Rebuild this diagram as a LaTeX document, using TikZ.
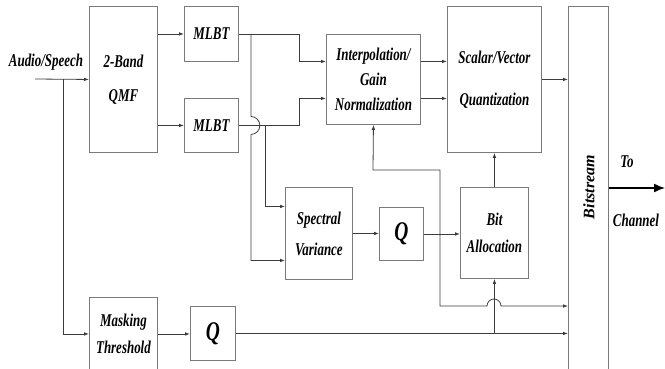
\documentclass[tikz,border=0pt]{standalone}
\usepackage{fontspec}
\setmainfont{Liberation Serif}
\newfontfamily\condfont[FakeStretch=0.72]{Liberation Serif}
\usetikzlibrary{arrows.meta,calc}
\definecolor{boxgray}{HTML}{7A7A7A}
\definecolor{linegray}{HTML}{3C3C3C}
\newcommand\mytf[2]{\condfont\bfseries\itshape\fontsize{#1}{#2}\selectfont}
\begin{document}
\begin{tikzpicture}[x=1pt,y=-1pt,
  box/.style={draw=boxgray, line width=0.9pt, inner sep=0pt, anchor=north west, align=center, text=black},
  lbl/.style={inner sep=0pt, text=black},
  conn/.style={draw=linegray, line width=0.8pt},
  arr/.style={conn, -{Latex[length=5pt,width=3.6pt]}},
  darr/.style={conn, {Latex[length=5pt,width=3.6pt]}-{Latex[length=5pt,width=3.6pt]}},
  bigarr/.style={draw=black, line width=1.4pt, -{Latex[length=11pt,width=9pt]}}]
\useasboundingbox (0,0) rectangle (665,368);
\fill[white] (0,0) rectangle (665,368);

% boxes
\node[box, minimum width=68pt, minimum height=146pt, font=\mytf{18}{34}] (qmf) at (89,6) {2-Band\\QMF};
\node[box, minimum width=54pt, minimum height=55pt, font=\mytf{18}{22}] (mlbta) at (184,6) {MLBT};
\node[box, minimum width=54pt, minimum height=54pt, font=\mytf{18}{22}] (mlbtb) at (184,98) {MLBT};
\node[box, minimum width=94pt, minimum height=90pt, font=\mytf{18}{25}] (interp) at (326,34) {Interpolation/\\Gain\\Normalization};
\node[box, minimum width=94pt, minimum height=146pt, font=\mytf{18}{42}] (svq) at (447,6) {Scalar/Vector\\Quantization};
\node[box, minimum width=40pt, minimum height=372pt] (bits) at (568,6) {};
\node[box, minimum width=67pt, minimum height=92pt, font=\mytf{18}{31}] (spec) at (285,187) {Spectral\\Variance};
\node[box, minimum width=44pt, minimum height=53pt, font=\mytf{27}{30}] (q1) at (379,207) {Q};
\node[box, minimum width=68pt, minimum height=91pt, font=\mytf{18}{27}] (bit) at (460,187) {Bit\\Allocation};
\node[box, minimum width=68pt, minimum height=73pt, font=\mytf{18}{27}] (mask) at (89,297) {Masking\\Threshold};
\node[box, minimum width=45pt, minimum height=54pt, font=\mytf{27}{30}] (q2) at (190,306) {Q};

% labels
\node[lbl, font=\mytf{18}{22}] (audio) at (46,62) {Audio/Speech};
\node[lbl, rotate=90, font=\bfseries\itshape\fontsize{16}{20}\selectfont] (bitslbl) at (589,187) {Bitstream};
\node[lbl, font=\mytf{18}{22}] (tolbl) at (627,162) {To};
\node[lbl, font=\mytf{18}{22}] (chlbl) at (636,220) {Channel};

% coordinates
\coordinate (in) at (35,79);
\coordinate (split) at (63,79);
\coordinate (outend) at (665,188);
\coordinate (bxa) at ($(mlbta.east)+(12,0)$);
\coordinate (bxj) at ($(mlbtb.east)+(12,-9)$);
\coordinate (bxb) at ($(mlbtb.east)+(26,0)$);
\coordinate (sva) at ([yshift=27pt]spec.west);
\coordinate (svb) at ([yshift=-27pt]spec.west);
\coordinate (fba) at (373,170);
\coordinate (fbb) at (440,170);
\coordinate (fbc) at (440,306);
\coordinate (fbj) at (487,306);

% input
\draw[arr] (in) -- (qmf.west);
\draw[arr] (split) |- (mask.west);

% QMF to MLBT
\draw[arr] (qmf.east |- mlbta.west) -- (mlbta.west);
\draw[arr] (qmf.east |- mlbtb.west) -- (mlbtb.west);

% MLBT to interpolation
\draw[arr] (mlbta.east) -- ++(60,0) |- ([yshift=18pt]interp.west);
\draw[arr] (mlbtb.east) -- ++(60,0) |- ([yshift=-19pt]interp.west);

% branches to spectral variance
\draw[arr] (bxa) -- (bxj)
   arc[start angle=270, end angle=450, radius=9] -- (bxa |- svb) -- (svb);
\draw[arr] (bxb) |- (sva);

% interpolation to SVQ
\draw[arr] ([yshift=18pt]interp.east) -- ([yshift=18pt]interp.east -| svq.west);
\draw[arr] ([yshift=-19pt]interp.east) -- ([yshift=-19pt]interp.east -| svq.west);

% SVQ to bitstream
\draw[arr] (svq.east) -- (svq.east -| bits.west);

% spectral chain
\draw[arr] (spec.east) -- (spec.east -| q1.west);
\draw[arr] (q1.east) -- (q1.east -| bit.west);
\draw[arr] (bit.north) -- (bit.north |- svq.south);

% feedback path
\draw[darr] (interp.south) -- (fba) -- (fbb) -- (fbc) -- (fbj)
   arc[start angle=180, end angle=360, radius=7] -- (fbc -| bits.west);

% masking chain
\draw[arr] (mask.east) -- (mask.east -| q2.west);
\draw[arr] (q2.east) -- (q2.east -| bits.west);
\draw[arr] (bit.south |- q2.east) -- (bit.south);

% output
\draw[bigarr] (bits.east |- outend) -- (outend);
\end{tikzpicture}
\end{document}
